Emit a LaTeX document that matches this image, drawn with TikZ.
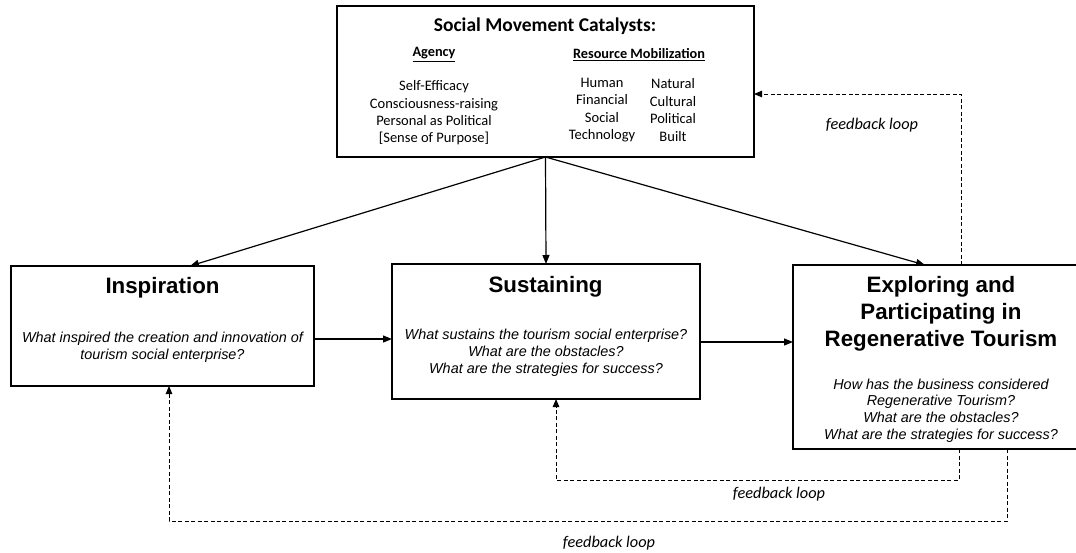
\documentclass[tikz,border=0pt]{standalone}
\usepackage{fontspec}
\newfontfamily\arialf{Liberation Sans}
\newfontfamily\calib{Carlito}
\usetikzlibrary{arrows.meta}
\begin{document}
\begin{tikzpicture}[x=1pt,y=-1pt,
 box/.style={draw, line width=1.3pt, inner sep=0pt, outer sep=0pt},
 conn/.style={line width=1.2pt, -{Triangle[length=9pt,width=7pt]}},
 fbloop/.style={line width=1pt, dash pattern=on 4pt off 2.5pt, -{Triangle[length=8pt,width=6.5pt]}},
 ttl/.style={font=\arialf\bfseries\fontsize{22.3}{27}\selectfont, align=center, inner sep=0pt},
 quest/.style={font=\arialf\itshape\fontsize{14.4}{16.8}\selectfont, align=center, inner sep=0pt},
 cat/.style={font=\calib\fontsize{14.5}{17.4}\selectfont, align=center, inner sep=0pt},
 cathead/.style={font=\calib\bfseries\fontsize{14.3}{17}\selectfont, inner sep=0pt},
 fb/.style={font=\calib\itshape\fontsize{16.3}{19}\selectfont, inner sep=0pt}]
\useasboundingbox (0,0) rectangle (1076,552);
\clip (0,0) rectangle (1076,552);
% boxes
\node[box, minimum width=417pt, minimum height=151pt] (catbox) at (545.5,81.5) {};
\node[box, minimum width=303pt, minimum height=120pt] (insp) at (162.5,326) {};
\node[box, minimum width=308pt, minimum height=135pt] (sust) at (546,331.5) {};
\node[box, minimum width=296pt, minimum height=184pt] (expl) at (941,357) {};
% top box texts
\node[font=\calib\bfseries\fontsize{19.5}{23}\selectfont, inner sep=0pt] (cattitle) at (545,26) {Social Movement Catalysts:};
\node[cathead] (agency) at (434,54.5) {\underline{Agency}};
\node[cathead] (resmob) at (639,54.5) {\underline{Resource Mobilization}};
\node[cat] (agitems) at (434,113) {Self-Efficacy\\Consciousness-raising\\Personal as Political\\{[Sense of Purpose]}};
\node[cat] (resA) at (602,110) {Human\\Financial\\Social\\Technology};
\node[cat] (resB) at (673,110) {Natural\\Cultural\\Political\\Built};
% box texts
\node[ttl] (insptitle) at (162.5,288) {Inspiration};
\node[quest] (inspq) at (162.5,347.5) {What inspired the creation and innovation of\\tourism social enterprise?};
\node[ttl] (susttitle) at (545.5,287) {Sustaining};
\node[quest] (sustq) at (546,352.5) {What sustains the tourism social enterprise?\\What are the obstacles?\\What are the strategies for success?};
\node[ttl] (expltitle) at (941,313.5) {Exploring and\\Participating in\\Regenerative Tourism};
\node[quest] (explq) at (941,410.5) {How has the business considered\\Regenerative Tourism?\\What are the obstacles?\\What are the strategies for success?};
% solid connectors
\draw[conn] (catbox.south) -- ([xshift=27.5pt]insp.north);
\draw[conn] (catbox.south) -- (sust.north);
\draw[conn] (catbox.south) -- ([xshift=-16pt]expl.north);
\path ([yshift=-13pt]insp.east) coordinate (ie);
\draw[conn] (ie) -- (ie -| sust.west);
\path ([yshift=-10.5pt]sust.east) coordinate (se);
\draw[conn] (se) -- (se -| expl.west);
% feedback loops
\path ([yshift=-12.5pt]catbox.east) coordinate (fbtop);
\draw[fbloop] ([xshift=20pt]expl.north) |- (fbtop);
\draw[fbloop] ([xshift=18pt]expl.south) -- ++(0,31) -| ([xshift=10pt]sust.south);
\draw[fbloop] ([xshift=66pt]expl.south) -- ++(0,72) -| ([xshift=6.5pt]insp.south);
\node[fb] (fb1) at (872,125) {feedback loop};
\node[fb] (fb2) at (779,494) {feedback loop};
\node[fb] (fb3) at (609,543) {feedback loop};
\end{tikzpicture}
\end{document}
